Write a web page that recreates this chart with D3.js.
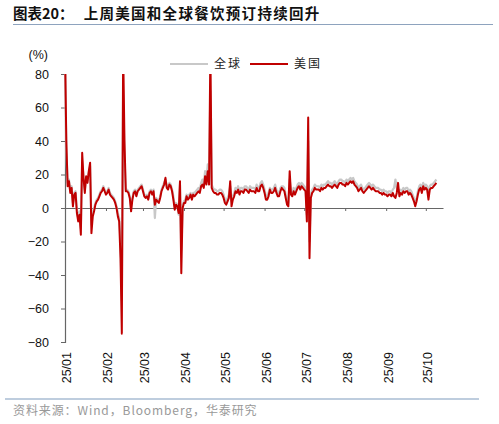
<!DOCTYPE html>
<html>
<head>
<meta charset="utf-8">
<script src="https://cdn.jsdelivr.net/npm/d3@7"></script>
<style>
  body { margin: 0; background: #fff; }
  svg { font-family: "Liberation Sans", Arial, "Noto Sans CJK SC", sans-serif; }
  .cjk { font-family: "Noto Sans CJK SC", sans-serif; }
</style>
</head>
<body>
<div id="chart"></div>
<script>
// daily series, first value = 2025-01-01
var startDate = '2025-01-01';
var axisEnd = '2025-10-14';

var seriesNames = ['全球', '美国'];

// 美国 (%), one value per day
var usValues = [
  95, 40, 13, 16, 9, 12, 1, 8, 9, -3,
  -8, -4, -16, 33, 18, 9, 19, 15, 22, 27,
  -15, -5, -2, 2, 4, 5, 7, 9, 10, 12,
  10, 8, 9, 11, 8, 7, 6, 5, 3, 0,
  -5, -8, -30, -75, 95, 40, 10, 10, 9, 6,
  -2, 5, 9, 10, 7, 10, 11, 12, 13, 10,
  7, 6, 7, 5, 9, 10, 8, 10, 2, 5,
  4, 3, 6, 10, 12, 14, 18, 12, 11, 14,
  13, 10, 5, -1, 2, 1, -3, 16, -39, 0,
  3, 3, 7, 5, 6, 8, 5, 8, 7, 8,
  9, 10, 9, 13, 14, 12, 19, 14, 22, 14,
  95, 12, 10, 9, 9, 8, 8, 9, 9, 8,
  6, 3, 2, 4, 6, 16, 1, 5, 7, 10,
  9, 11, 8, 10, 10, 9, 11, 11, 10, 9,
  11, 10, 10, 10, 9, 12, 10, 10, 13, 14,
  12, 9, 5, 5, 7, 11, 9, 9, 10, 12,
  9, 7, 7, 10, 12, 11, 10, 6, 2, 1,
  22, 8, 7, 10, 8, 10, 12, 13, 11, 13,
  12, 11, 10, -8, 54, -30, 6, 9, 10, 12,
  11, 11, 11, 10, 12, 11, 12, 12, 13, 14,
  13, 13, 12, 13, 14, 13, 12, 14, 15, 15,
  14, 14, 13, 15, 14, 15, 16, 15, 16, 14,
  13, 12, 10, 11, 12, 10, 9, 10, 11, 12,
  13, 12, 11, 12, 11, 10, 10, 10, 9, 9,
  8, 9, 8, 8, 7, 8, 8, 7, 9, 7,
  6, 9, 15, 7, 9, 8, 10, 9, 10, 10,
  8, 9, 8, 6, 4, 1, 4, 8, 11, 12,
  9, 13, 11, 12, 11, 5, 11, 12, 12, 13,
  14, 15
];

// 全球 (%), one value per day
var globalValues = [
  85, 35, 15, 17, 10, 13, 3, 9, 10, -1,
  -6, -2, -12, 28, 18, 11, 18, 16, 21, 25,
  -10, -3, 0, 3, 5, 6, 8, 10, 11, 13,
  11, 9, 10, 12, 9, 8, 7, 6, 4, 1,
  -3, -6, -20, -55, 70, 30, 11, 11, 10, 7,
  0, 6, 10, 11, 8, 11, 12, 13, 14, 11,
  8, 7, 8, 6, 10, 11, 9, 11, -6, 6,
  5, 4, 7, 11, 13, 15, 17, 13, 12, 15,
  14, 11, 7, 1, 3, 2, -4, 14, -25, 2,
  4, 5, 8, 7, 8, 9, 7, 9, 9, 10,
  11, 12, 11, 15, 17, 14, 22, 17, 26, 16,
  70, 14, 12, 11, 11, 10, 10, 11, 11, 10,
  8, 5, 4, 6, 8, 13, 4, 7, 9, 12,
  11, 13, 10, 12, 12, 11, 13, 13, 12, 11,
  13, 12, 12, 12, 11, 14, 12, 12, 15, 16,
  14, 11, 7, 7, 9, 12, 11, 11, 12, 14,
  11, 9, 9, 12, 13, 13, 12, 8, 4, 3,
  17, 10, 9, 12, 10, 12, 14, 15, 13, 15,
  14, 13, 12, -4, 40, -20, 8, 11, 12, 14,
  13, 13, 13, 12, 14, 13, 14, 14, 15, 16,
  15, 15, 14, 15, 16, 15, 14, 16, 17, 17,
  16, 16, 15, 17, 16, 17, 18, 17, 18, 16,
  15, 14, 12, 13, 14, 12, 11, 12, 13, 14,
  15, 14, 13, 14, 13, 12, 12, 12, 11, 11,
  10, 11, 10, 10, 9, 10, 10, 9, 11, 12,
  17, 12, 11, 10, 11, 10, 12, 11, 12, 12,
  10, 11, 10, 8, 6, 3, 6, 10, 13, 14,
  11, 15, 13, 14, 13, 7, 13, 14, 14, 15,
  16, 17
];

var yTicks = [-80, -60, -40, -20, 0, 20, 40, 60, 80];

var W = 499, H = 424;
var parse = d3.timeParse('%Y-%m-%d');
var t0 = parse(startDate);

function toRows(vals) {
    return vals.map(function (v, i) { return { date: d3.timeDay.offset(t0, i), value: v }; });
}
var usData = toRows(usValues);
var globalData = toRows(globalValues);

var svg = d3.select('#chart').append('svg')
    .attr('width', W)
    .attr('height', H);

// title
var title = svg.append('text')
    .attr('x', 13)
    .attr('y', 19)
    .attr('class', 'cjk')
    .style('font-size', '14.5px')
    .style('font-weight', 'bold')
    .style('fill', '#111');
title.append('tspan').text('图表20：');
title.append('tspan').attr('dx', 10).style('letter-spacing', '1.3px').text('上周美国和全球餐饮预订持续回升');

svg.append('line')
    .attr('x1', 13).attr('x2', 493)
    .attr('y1', 24.5).attr('y2', 24.5)
    .style('stroke', '#8EA3BE')
    .style('stroke-width', 1);

// scales
var x = d3.scaleTime()
    .domain([t0, parse(axisEnd)])
    .range([65, 443]);

var y = d3.scaleLinear()
    .domain([-80, 80])
    .range([342, 74]);

svg.append('defs').append('clipPath')
    .attr('id', 'plot-clip')
    .append('rect')
    .attr('x', 60).attr('y', 74)
    .attr('width', 400).attr('height', 268);

// y axis
var yAxis = d3.axisLeft(y)
    .tickValues(yTicks)
    .tickSize(4)
    .tickPadding(12)
    .tickFormat(d3.format('d'));

var gy = svg.append('g')
    .attr('transform', 'translate(65,0)')
    .call(yAxis);
gy.select('.domain').style('stroke', '#666').style('stroke-width', 1.2);
gy.selectAll('.tick line').style('stroke', '#666');
gy.selectAll('.tick text')
    .style('font-size', '12.5px')
    .style('font-family', '"Liberation Sans", Arial, sans-serif')
    .style('fill', '#111');

svg.append('text')
    .attr('x', 48)
    .attr('y', 59)
    .attr('text-anchor', 'end')
    .style('font-size', '12.5px')
    .style('fill', '#111')
    .text('(%)');

// x axis at zero
var xAxis = d3.axisBottom(x)
    .ticks(d3.timeMonth.every(1))
    .tickSize(3)
    .tickSizeOuter(0)
    .tickFormat(function () { return ''; });

var gx = svg.append('g')
    .attr('transform', 'translate(0,' + y(0) + ')')
    .call(xAxis);
gx.select('.domain').style('stroke', '#666').style('stroke-width', 1.2);
gx.selectAll('.tick line').style('stroke', '#666');

// rotated month labels below the plot
var months = x.ticks(d3.timeMonth.every(1));
svg.append('g').selectAll('text')
    .data(months)
    .join('text')
    .attr('transform', function (d) { return 'translate(' + (x(d) + 2) + ',352) rotate(-90)'; })
    .attr('text-anchor', 'end')
    .attr('dy', '0.35em')
    .style('font-size', '12.5px')
    .style('fill', '#111')
    .text(d3.timeFormat('%y/%m'));

// lines
var line = d3.line()
    .x(function (d) { return x(d.date); })
    .y(function (d) { return y(d.value); });

var plot = svg.append('g').attr('clip-path', 'url(#plot-clip)');

plot.append('path')
    .datum(globalData)
    .attr('d', line)
    .style('fill', 'none')
    .style('stroke', '#C8C8C8')
    .style('stroke-width', 2.2)
    .style('stroke-linejoin', 'round');

plot.append('path')
    .datum(usData)
    .attr('d', line)
    .style('fill', 'none')
    .style('stroke', '#C00000')
    .style('stroke-width', 2)
    .style('stroke-linejoin', 'round');

// legend
var legendColors = ['#C8C8C8', '#C00000'];
var legend = svg.append('g').selectAll('g')
    .data(seriesNames)
    .join('g')
    .attr('transform', function (d, i) { return 'translate(' + (170 + i * 80) + ',64)'; });
legend.append('line')
    .attr('x1', 0).attr('x2', 38)
    .style('stroke', function (d, i) { return legendColors[i]; })
    .style('stroke-width', 2);
legend.append('text')
    .attr('x', 44)
    .attr('dy', '0.36em')
    .attr('class', 'cjk')
    .style('font-size', '12px')
    .style('letter-spacing', '2px')
    .style('fill', '#222')
    .text(function (d) { return d; });

// footer
svg.append('line')
    .attr('x1', 5).attr('x2', 479)
    .attr('y1', 399).attr('y2', 399)
    .style('stroke', '#A9BCD3')
    .style('stroke-width', 1.5);

svg.append('text')
    .attr('x', 13)
    .attr('y', 415)
    .attr('class', 'cjk')
    .style('font-size', '12px')
    .style('letter-spacing', '0.9px')
    .style('fill', '#999')
    .text('资料来源：Wind，Bloomberg，华泰研究');
</script>
</body>
</html>
